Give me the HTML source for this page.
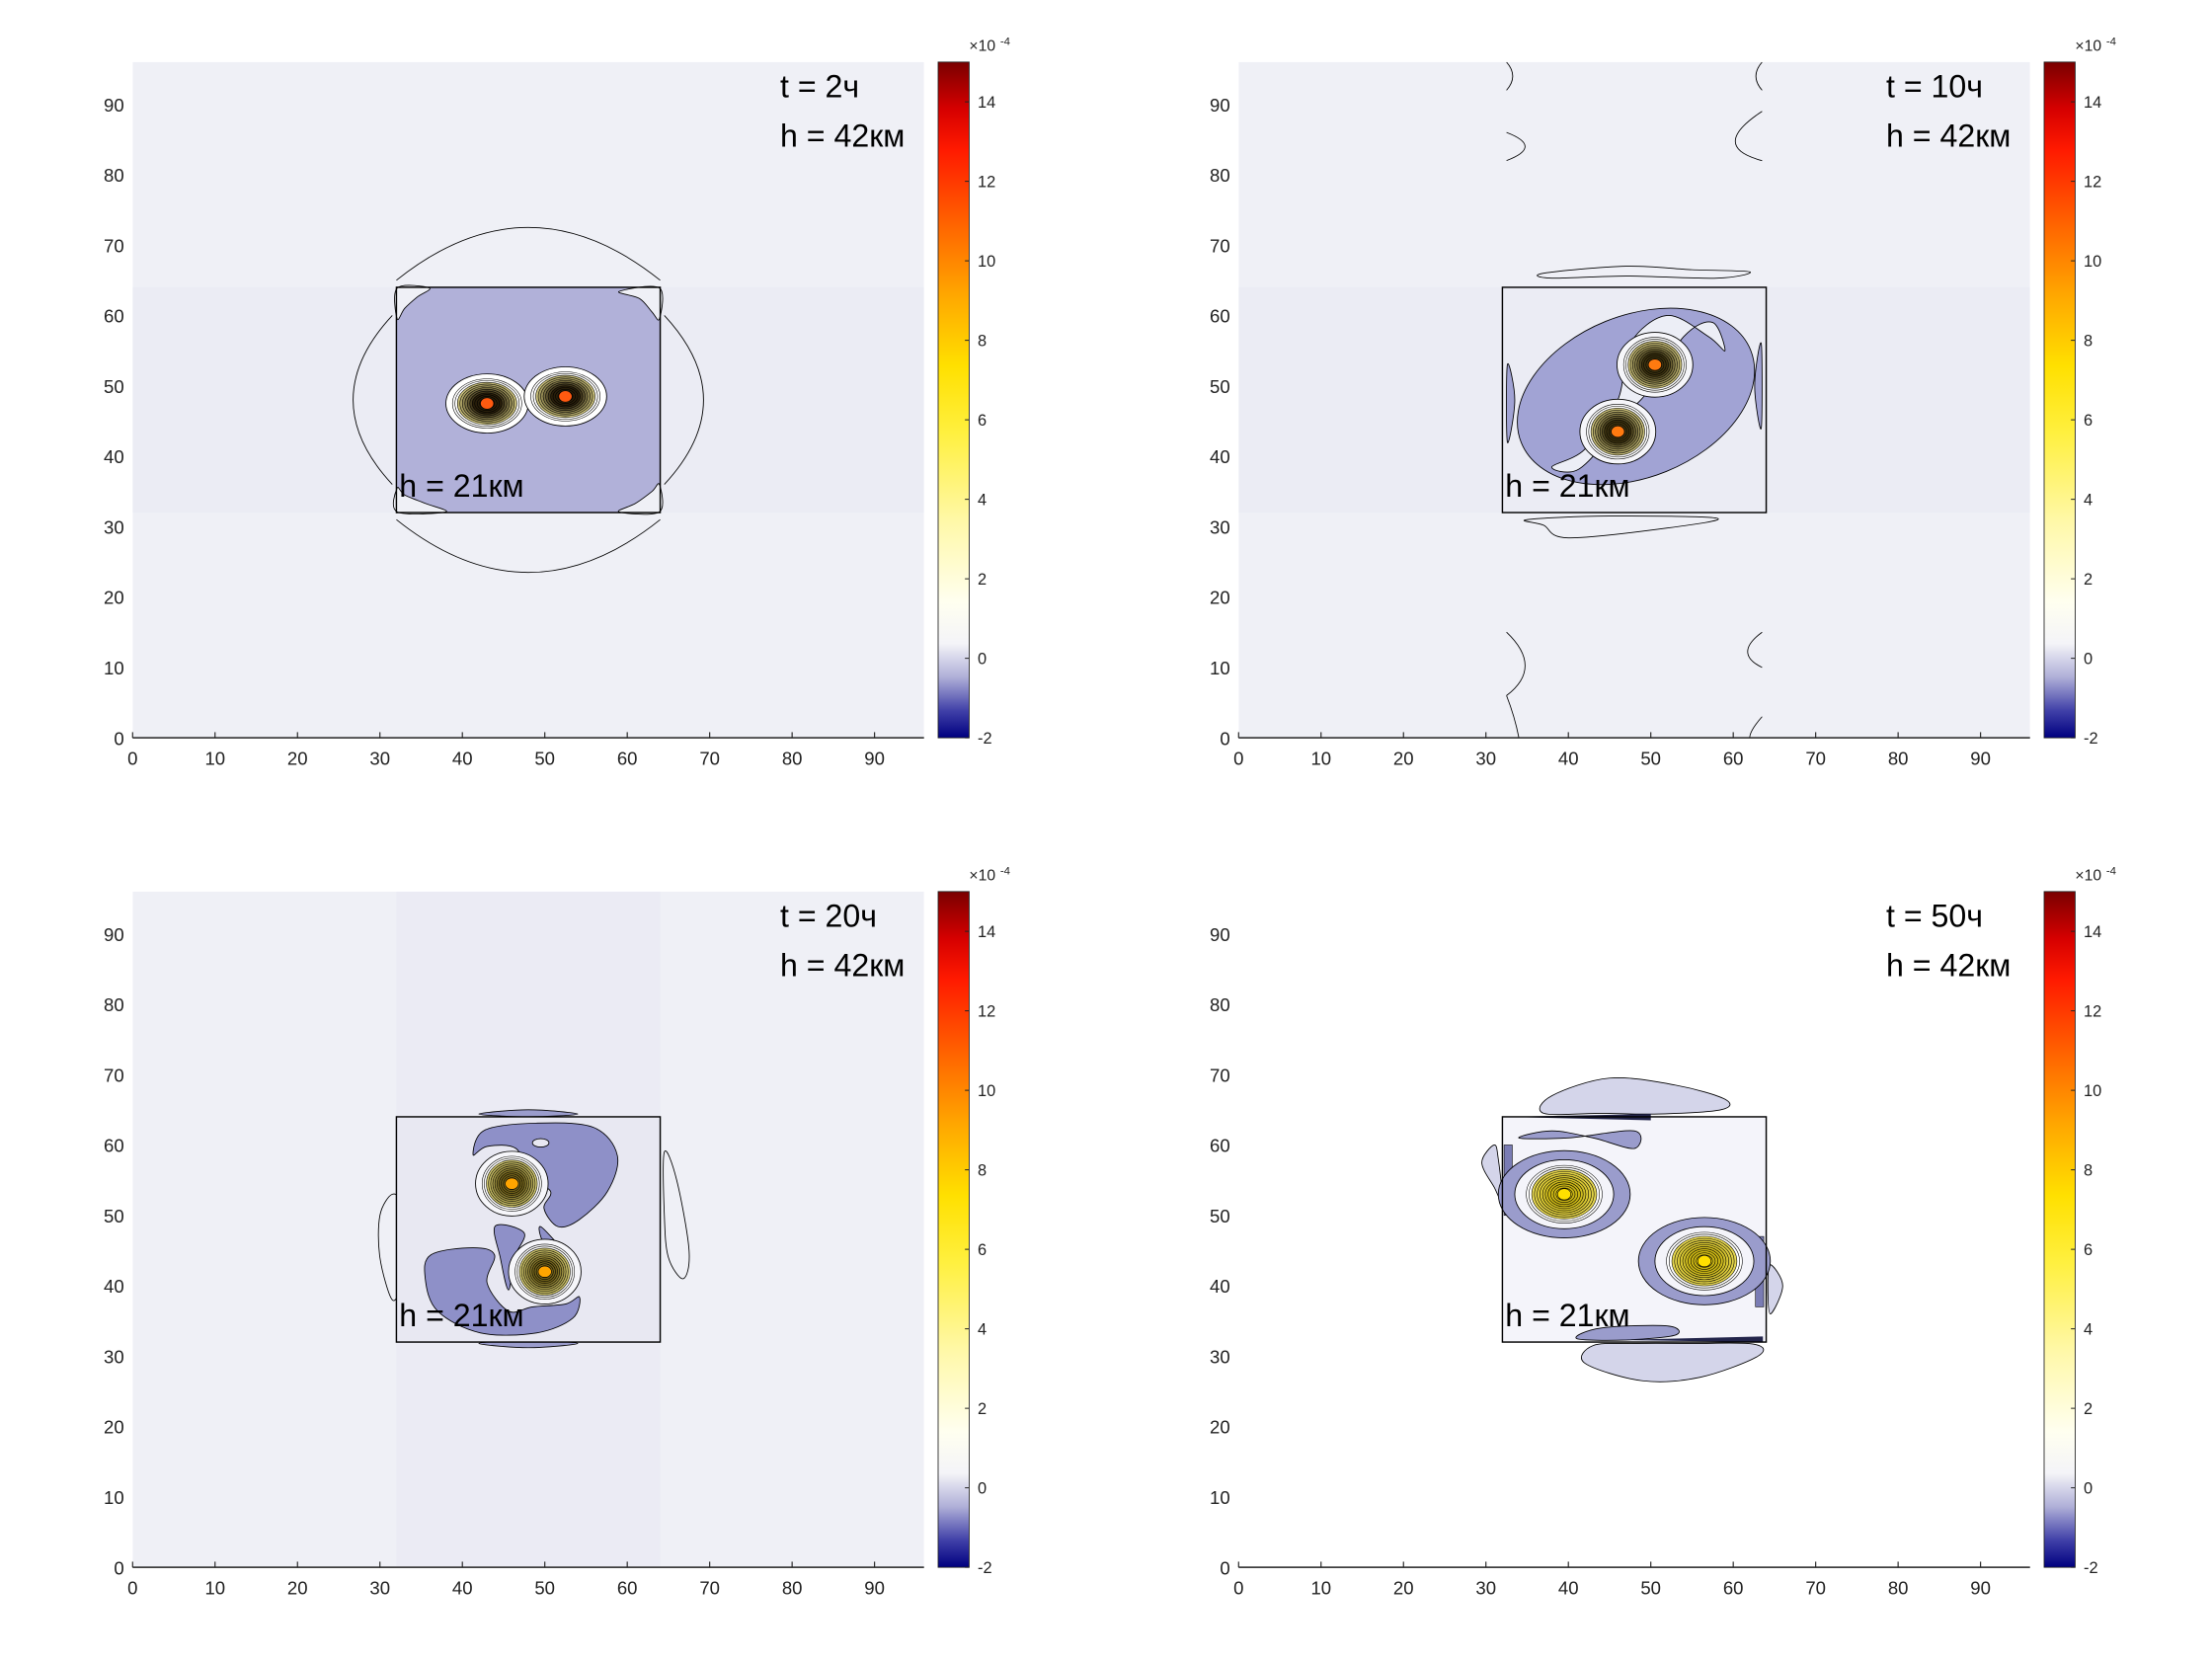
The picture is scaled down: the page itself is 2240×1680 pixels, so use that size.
<!DOCTYPE html>
<html><head><meta charset="utf-8">
<style>
html,body{margin:0;padding:0;background:#fff;}
svg{display:block;font-family:"Liberation Sans","DejaVu Sans",sans-serif;}
</style></head>
<body>
<svg id="fig" width="2240" height="1680" viewBox="0 0 1568 1176" xmlns="http://www.w3.org/2000/svg">
<defs>
<linearGradient id="cmap" x1="0" y1="0" x2="0" y2="1">
<stop offset="0" stop-color="#7a0000"/>
<stop offset="0.07" stop-color="#d60000"/>
<stop offset="0.13" stop-color="#ff1a00"/>
<stop offset="0.25" stop-color="#ff6a00"/>
<stop offset="0.35" stop-color="#ffaa00"/>
<stop offset="0.45" stop-color="#ffe000"/>
<stop offset="0.55" stop-color="#fff040"/>
<stop offset="0.68" stop-color="#fff8a8"/>
<stop offset="0.80" stop-color="#fffff0"/>
<stop offset="0.86" stop-color="#f4f4f8"/>
<stop offset="0.91" stop-color="#b0b0d8"/>
<stop offset="0.96" stop-color="#4040a8"/>
<stop offset="1" stop-color="#000080"/>
</linearGradient>
</defs>
</svg>
<script>
// ---- data ----
const xTicks = [0,10,20,30,40,50,60,70,80,90];
const yTicks = [0,10,20,30,40,50,60,70,80,90];
const cbTicks = [-2,0,2,4,6,8,10,12,14];
const cbRange = [-2,15];
const axRange = [0,96];
const timeLabels = ["t = 2ч","t = 10ч","t = 20ч","t = 50ч"];
const boxX = [32,64];
const boxY = [32,64];
// vortex centres per panel [x,y]
const vortexTL = [[43,47.5],[52.5,48.5]];
const vortexTR = [[50.5,53],[46,43.5]];
const vortexBL = [[46,54.5],[50,42]];
const vortexBR = [[39.5,53],[56.5,43.5]];
// BL blue lobes (data coords)
const blUpper = [[42.7,62.1],[49,63.1],[55.9,62.5],[58.8,58.5],[57.6,53.4],[54.2,49.4],[51.6,48.4],[49.9,51],[50.7,53.4],[48.2,55.4],[46.5,59.5],[43,59.8],[41.3,58.6]];
const blLower = [[36.2,44.4],[41.3,45.4],[43.9,44.4],[43,40.4],[45.6,36.4],[48.5,37],[52.5,37.4],[54.2,38.4],[53.4,35.4],[49,33.3],[42.2,33.3],[37,36.4],[35.5,41]];
const blStem1 = [[44,48.5],[47.5,47.5],[46.3,44],[45.6,39.4],[44.6,44]];
const blStem2 = [[49.5,48.4],[51.5,46],[52.5,44.5],[50.5,45],[49.5,47]];

const NS="http://www.w3.org/2000/svg";
const svg=document.getElementById('fig');
function el(tag,attrs,parent){const e=document.createElementNS(NS,tag);for(const k in attrs)e.setAttribute(k,attrs[k]);(parent||svg).appendChild(e);return e;}

const panels=[
 {ox:0,oy:0,bg:'#eff0f6',band:'h',bandCol:'#ebecf4',boxFill:'#b1b1d9',label:0,vort:vortexTL,name:'panel-t2'},
 {ox:784,oy:0,bg:'#eff0f6',band:'h',bandCol:'#ebecf4',boxFill:'#ebecf4',label:1,vort:vortexTR,name:'panel-t10'},
 {ox:0,oy:588,bg:'#eff0f6',band:'v',bandCol:'#ebebf4',boxFill:'#e8e8f2',label:2,vort:vortexBL,name:'panel-t20'},
 {ox:784,oy:588,bg:'#ffffff',band:null,boxFill:'#f4f4fa',label:3,vort:vortexBR,name:'panel-t50'}
];

function smooth(pts,sx,sy){
 const P=pts.map(p=>[sx(p[0]),sy(p[1])]);const n=P.length;let d=`M${P[0][0]},${P[0][1]}`;
 for(let i=0;i<n;i++){const p0=P[(i-1+n)%n],p1=P[i],p2=P[(i+1)%n],p3=P[(i+2)%n];
  d+=`C${p1[0]+(p2[0]-p0[0])/6},${p1[1]+(p2[1]-p0[1])/6} ${p2[0]-(p3[0]-p1[0])/6},${p2[1]-(p3[1]-p1[1])/6} ${p2[0]},${p2[1]}`;}
 return d+'Z';
}

panels.forEach((pn,pi)=>{
 const L=94+pn.ox, R=655+pn.ox, T=44+pn.oy, B=523+pn.oy;
 const sx=v=>L+(v-axRange[0])/(axRange[1]-axRange[0])*(R-L);
 const sy=v=>B-(v-axRange[0])/(axRange[1]-axRange[0])*(B-T);
 const kx=(R-L)/96, ky=(B-T)/96;
 const g=el('g',{});
 
 
 const cid='clip'+pi;
 const cp=el('clipPath',{id:cid},g);el('rect',{x:L,y:T,width:R-L,height:B-T},cp);
 const plot=el('g',{'clip-path':`url(#${cid})`},g);
 const bg=el('rect',{x:L,y:T,width:R-L,height:B-T,fill:pn.bg},plot);
 
 
 if(pn.band==='h') el('rect',{x:L,y:sy(boxY[1]),width:R-L,height:sy(boxY[0])-sy(boxY[1]),fill:pn.bandCol},plot);
 if(pn.band==='v') el('rect',{x:sx(boxX[0]),y:T,width:sx(boxX[1])-sx(boxX[0]),height:B-T,fill:pn.bandCol},plot);
 const ln={fill:'none',stroke:'#000','stroke-width':0.6};
 const bx=sx(boxX[0]),bx2=sx(boxX[1]),by=sy(boxY[1]),by2=sy(boxY[0]);
 if(pi===0){
  el('path',Object.assign({d:`M${sx(32)},${sy(65)} Q${sx(48)},${sy(80)} ${sx(64)},${sy(65)} M${sx(32)},${sy(31)} Q${sx(48)},${sy(16)} ${sx(64)},${sy(31)} M${sx(31.5)},${sy(60)} Q${sx(22)},${sy(48)} ${sx(31.5)},${sy(36)} M${sx(64.5)},${sy(60)} Q${sx(74)},${sy(48)} ${sx(64.5)},${sy(36)}`},ln),plot);
 }
 if(pi===1){
  el('path',Object.assign({d:`M${sx(32.5)},${sy(96)} Q${sx(34)},${sy(94)} ${sx(32.5)},${sy(92)} M${sx(32.5)},${sy(86)} Q${sx(37)},${sy(84)} ${sx(32.5)},${sy(82)} M${sx(63.5)},${sy(96)} Q${sx(62)},${sy(94)} ${sx(63.5)},${sy(92)} M${sx(63.5)},${sy(89)} Q${sx(57)},${sy(84)} ${sx(63.5)},${sy(82)} M${sx(32.5)},${sy(15)} Q${sx(37)},${sy(10)} ${sx(32.5)},${sy(6)} M${sx(32.5)},${sy(6)} Q${sx(33.5)},${sy(3)} ${sx(34)},${sy(0)} M${sx(63.5)},${sy(15)} Q${sx(60)},${sy(12)} ${sx(63.5)},${sy(10)} M${sx(63.5)},${sy(3)} Q${sx(62)},${sy(1)} ${sx(62)},${sy(0)}`},ln),plot);
  el('path',Object.assign({d:smooth([[37,66],[47,67],[55,66.5],[62,66.2],[58,65.3],[47,65.6],[38,65.3]],sx,sy)},ln),plot);
  el('path',Object.assign({d:smooth([[35,31],[45,31.5],[58,31.2],[52,29.8],[40,28.4],[37,30.2]],sx,sy)},ln),plot);
 }
 if(pi===2){
  el('path',Object.assign({d:smooth([[31.5,38],[30,44],[30,50],[31.5,53],[32.5,51],[32.5,41]],sx,sy)},ln),plot);
  el('path',Object.assign({d:smooth([[64.5,59],[66,55],[67.5,45],[66.8,41],[65,44],[64.5,50]],sx,sy)},ln),plot);
  el('path',Object.assign({d:smooth([[42,64.4],[48,65],[54,64.4],[48,64]],sx,sy)},{fill:'#9a9ccc',stroke:'#000','stroke-width':0.6}),plot);
  el('path',Object.assign({d:smooth([[42,31.8],[48,31.2],[54,31.8],[48,32.2]],sx,sy)},{fill:'#9a9ccc',stroke:'#000','stroke-width':0.6}),plot);
 }
 if(pi===3){
  const lite={fill:'#d4d5ea',stroke:'#000','stroke-width':0.6};
  el('path',Object.assign({d:smooth([[37,64.5],[38,67],[45,69.5],[53,68.5],[59,66.5],[58.5,65],[51,64.4],[44,64.5]],sx,sy)},lite),plot);
  el('path',Object.assign({d:smooth([[43,31.5],[42,29],[49,26.5],[56,27],[63,30],[62.5,31.7],[55,31.8],[48,31.8]],sx,sy)},lite),plot);
  el('path',Object.assign({d:smooth([[31,60],[29.5,57.5],[31,54],[32,52],[31.5,58]],sx,sy)},lite),plot);
  el('path',Object.assign({d:smooth([[64.5,43],[66,40],[64.5,36],[64.2,40]],sx,sy)},lite),plot);
 }
 const box=el('rect',{x:bx,y:by,width:bx2-bx,height:by2-by,fill:pn.boxFill,stroke:'none'},plot);
 
 
 if(pi===0){
  const w={fill:pn.bg,stroke:'#000','stroke-width':0.6};
  el('path',Object.assign({d:smooth([[32.1,63.9],[36,63.9],[34.5,62.6],[33,61],[32.1,59.5]],sx,sy)},w),plot);
  el('path',Object.assign({d:smooth([[63.9,63.9],[59,63.4],[61.5,62.4],[63,60.5],[63.9,59.5]],sx,sy)},w),plot);
  el('path',Object.assign({d:smooth([[32.1,32.1],[38,32.1],[35.5,33.3],[33,34.5],[32.1,35.5]],sx,sy)},w),plot);
  el('path',Object.assign({d:smooth([[63.9,32.1],[59,32.1],[61,33.3],[63,35],[63.9,36]],sx,sy)},w),plot);
 }
 if(pi===1){
  el('ellipse',{cx:sx(48.2),cy:sy(48.5),rx:15*kx,ry:11.5*ky,transform:`rotate(-22 ${sx(48.2)} ${sy(48.5)})`,fill:'#a1a3d4',stroke:'#000','stroke-width':0.6},plot);
  el('path',Object.assign({d:smooth([[44.5,42],[47,46],[49.5,49],[54,57],[57.5,59],[59,55],[57,57],[52,60],[47.5,56],[46,48],[42,41],[38,38.5],[41,38]],sx,sy)},{fill:'#eceef6',stroke:'#000','stroke-width':0.6}),plot);
  el('path',Object.assign({d:smooth([[32.6,53],[33.5,48],[32.6,42]],sx,sy)},{fill:'#a1a3d4',stroke:'#000','stroke-width':0.6}),plot);
  el('path',Object.assign({d:smooth([[63.4,56],[62.6,50],[63.4,44]],sx,sy)},{fill:'#a1a3d4',stroke:'#000','stroke-width':0.6}),plot);
 }
 if(pi===2){
  const b2={fill:'#8e90c8',stroke:'#000','stroke-width':0.6};
  [blUpper,blLower,blStem1,blStem2].forEach(s=>el('path',Object.assign({d:smooth(s,sx,sy)},b2),plot));
  el('ellipse',{cx:sx(49.5),cy:sy(60.3),rx:1*kx,ry:0.6*ky,fill:'#e8e8f2',stroke:'#000','stroke-width':0.6},plot);
 }
 if(pi===3){
  const b3={fill:'#9a9ccc',stroke:'#000','stroke-width':0.6};
  el('path',Object.assign({d:smooth([[34,61],[40,61],[48,62],[48,59.5],[43,61],[38,62]],sx,sy)},b3),plot);
  el('path',Object.assign({d:smooth([[44,34],[52,34.3],[53,33],[47,32.3],[41,32.5]],sx,sy)},b3),plot);
  el('path',{d:'M'+sx(32.4)+','+sy(64)+'L'+sx(50)+','+sy(63.5)+'L'+sx(50)+','+sy(64.4)+'Z',fill:'#22244a'},plot);
  el('path',{d:'M'+sx(46)+','+sy(32.3)+'L'+sx(63.6)+','+sy(32)+'L'+sx(63.6)+','+sy(32.8)+'Z',fill:'#22244a'},plot);
  el('rect',{x:sx(32.2),y:sy(60),width:1*kx,height:10*ky,fill:'#7a7cb4',stroke:'#000','stroke-width':0.4},plot);
  el('rect',{x:sx(62.7),y:sy(47),width:1*kx,height:10*ky,fill:'#7a7cb4',stroke:'#000','stroke-width':0.4},plot);
 }
 // vortices
 pn.vort.forEach((v,vi)=>{
  const cx=sx(v[0]),cy=sy(v[1]);
  const vg=el('g',{},plot);
  
  
  let rx=4.2,ry=3.6,core='#ff5a10',c0=[200,190,120],c1=[70,60,20];
  if(pi===0){rx=4.2;ry=3.5;c1=[40,30,10];}
  if(pi===1){rx=3.8;ry=3.9;core='#ff7a10';c1=[60,50,15];}
  if(pi===2){rx=3.6;ry=3.9;core='#ffa500';c0=[210,200,110];c1=[110,95,25];}
  if(pi===3){rx=4.6;ry=4.1;core='#ffe000';c0=[230,215,80];c1=[200,180,20];
   el('ellipse',{cx:cx,cy:cy,rx:8*kx,ry:6.2*ky,fill:'#9a9ccc',stroke:'#000','stroke-width':0.6},vg);
   el('ellipse',{cx:cx,cy:cy,rx:6*kx,ry:4.9*ky,fill:'#f4f4fa',stroke:'#000','stroke-width':0.6},vg);}
  if(pi<3) el('ellipse',{cx:cx,cy:cy,rx:(rx+0.8)*kx,ry:(ry+0.7)*ky,fill:pi===0?'#fff':'#f6f6fa',stroke:'#000','stroke-width':0.6},vg);
  const N=14;
  for(let i=0;i<N;i++){
   const f=1-i/N;
   const t=Math.min(1,(i-2)/6);
   const col=i<2?'#ffffff':`rgb(${Math.round(c0[0]+(c1[0]-c0[0])*t)},${Math.round(c0[1]+(c1[1]-c0[1])*t)},${Math.round(c0[2]+(c1[2]-c0[2])*t)})`;
   el('ellipse',{cx:cx,cy:cy,rx:rx*f*kx,ry:ry*f*ky,fill:col,stroke:'#000','stroke-width':0.4},vg);
  }
  el('ellipse',{cx:cx,cy:cy,rx:0.8*kx,ry:0.8*ky,fill:core,stroke:'#000','stroke-width':0.4},vg);
 });
 el('rect',{x:bx,y:by,width:bx2-bx,height:by2-by,fill:'none',stroke:'#000','stroke-width':1},plot);
 // axes
 const xa=el('line',{x1:L,y1:B,x2:R,y2:B,stroke:'#222','stroke-width':1},g);
 
 
 xTicks.forEach(t=>{
  el('line',{x1:sx(t),y1:B,x2:sx(t),y2:B-4,stroke:'#222','stroke-width':0.8},g);
  const tx=el('text',{x:sx(t),y:B+19,'font-size':13,'text-anchor':'middle',fill:'#222'},g);tx.textContent=t;
  
  
 });
 yTicks.forEach(t=>{
  const ty=el('text',{x:L-6,y:sy(t)+5,'font-size':13,'text-anchor':'end',fill:'#222'},g);ty.textContent=t;
  
  
 });
 const a1=el('text',{x:553+pn.ox,y:69+pn.oy,'font-size':22.5,fill:'#000'},g);a1.textContent=timeLabels[pn.label];
 
 
 const a2=el('text',{x:553+pn.ox,y:104+pn.oy,'font-size':22.5,fill:'#000'},g);a2.textContent='h = 42км';
 
 
 const a3=el('text',{x:283+pn.ox,y:352+pn.oy,'font-size':22.5,fill:'#000'},g);a3.textContent='h = 21км';
 
 
 // colorbar
 const cL=665+pn.ox,cW=22;
 const cy=v=>B-(v-cbRange[0])/(cbRange[1]-cbRange[0])*(B-T);
 const cb=el('rect',{x:cL,y:T,width:cW,height:B-T,fill:'url(#cmap)',stroke:'#222','stroke-width':0.6},g);
 
 
 cbTicks.forEach(t=>{
  el('line',{x1:cL+cW-3,y1:cy(t),x2:cL+cW,y2:cy(t),stroke:'#222','stroke-width':0.7},g);
  const ct=el('text',{x:cL+cW+6,y:cy(t)+4,'font-size':11.5,fill:'#222'},g);ct.textContent=t;
  
  
 });
 const ex=el('text',{x:cL+22,y:T-8,'font-size':11,fill:'#222'},g);ex.textContent='×10';
 
 
 const ex2=el('text',{x:cL+44,y:T-12,'font-size':8,fill:'#222'},g);ex2.textContent='-4';
});
</script>
</body></html>
